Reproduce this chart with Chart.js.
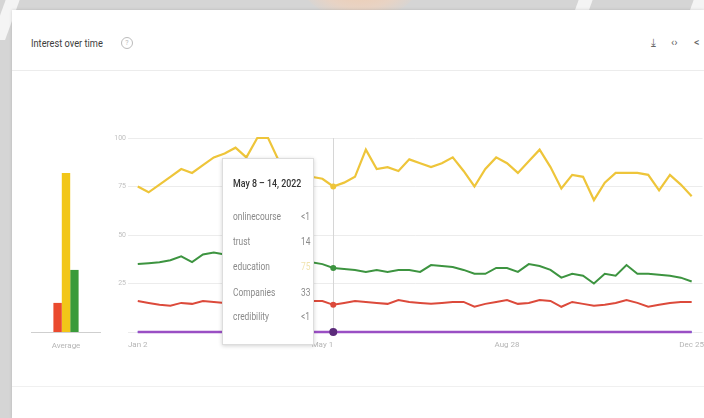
<!DOCTYPE html>
<html>
<head>
<meta charset="utf-8">
<script src="https://cdn.jsdelivr.net/npm/chart.js@4.4.1/dist/chart.umd.min.js"></script>
<style>
  html, body { margin: 0; padding: 0; }
  body { width: 704px; height: 418px; position: relative; overflow: hidden; background: #d5d5d5;
         font-family: Roboto, 'Liberation Sans', sans-serif; }
  .glow { position: absolute; left: 300px; top: -60px; width: 120px; height: 80px; border-radius: 50%;
          background: radial-gradient(ellipse at center, #f2c9a8 0%, #e8d3c4 50%, rgba(213,213,213,0) 75%); }
  .stripe { position: absolute; top: -20px; width: 14px; height: 60px; background: #f4f4f4; transform: skewX(-20deg); }
  #card { position: absolute; left: 12px; top: 10px; right: 0; bottom: 0; background: #fff;
          box-shadow: 0 0 3px rgba(0,0,0,0.15); }
  .narrow { transform: scaleX(0.84); transform-origin: 0 50%; white-space: nowrap; }
  #title { position: absolute; left: 31px; top: 37px; font-size: 11px; color: #3c3c3c; }
  #help { position: absolute; left: 121px; top: 37px; width: 10px; height: 10px; border: 1px solid #bbb; border-radius: 50%;
          font-size: 7px; color: #bbb; text-align: center; line-height: 10px; }
  #sep { position: absolute; left: 12px; right: 0; top: 70px; height: 1px; background: #ececec; }
  #sep2 { position: absolute; left: 12px; right: 0; top: 386px; height: 1px; background: #f0f0f0; }
  .icon { position: absolute; top: 36px; font-size: 11px; color: #666; }
  #avgWrap { position: absolute; left: 31px; top: 128px; width: 70px; height: 224px; }
  #lineWrap { position: absolute; left: 100px; top: 128px; width: 604px; height: 224px; }
  #tip { position: absolute; left: 222px; top: 158px; width: 92px; height: 187px; background: #fff;
         border: 1px solid #ddd; box-shadow: 0 1px 4px rgba(0,0,0,0.18); box-sizing: border-box; }
  #tipTitle { position: absolute; left: 10px; top: 18px; font-size: 10.5px; color: #333; font-weight: 500; }
  .row { position: absolute; left: 10px; font-size: 10px; color: #8a8a8a; }
  .val { position: absolute; left: 78px; font-size: 10px; color: #8a8a8a; }
</style>
</head>
<body>
<div class="glow"></div>
<div class="stripe" style="left:2px"></div>
<div class="stripe" style="left:575px"></div>
<div class="stripe" style="left:690px"></div>
<div id="card"></div>
<div id="title" class="narrow">Interest over time</div>
<div id="help">?</div>
<div class="icon" style="left:651px">&#x2913;</div>
<div class="icon" style="left:671px">&#x2039;&#x203A;</div>
<div class="icon" style="left:694px">&lt;</div>
<div id="sep"></div>
<div id="sep2"></div>
<div id="avgWrap"><canvas id="avg"></canvas></div>
<div id="lineWrap"><canvas id="line"></canvas></div>
<div id="tip"><div id="tipTitle" class="narrow"></div></div>
<script>
// ---- data ----
const terms = ['onlinecourse', 'trust', 'education', 'Companies', 'credibility'];
const colors = ['#4285f4', '#dc4a3b', '#eec53a', '#3d9440', '#9a4fc4'];
const barColors = ['#4285f4', '#ea4a2e', '#f2c618', '#3a9b3a', '#9a4fc4'];
const averages = [0, 15, 82, 32, 0];
const onlinecourse = [0,0,0,0,0,0,0,0,0,0,0,0,0,0,0,0,0,0,0,0,0,0,0,0,0,0,0,0,0,0,0,0,0,0,0,0,0,0,0,0,0,0,0,0,0,0,0,0,0,0,0,0];
const trust = [16,15,14,13.5,15,14.5,16,15.5,15,15,14.5,15,15,14,15,15,16,16,14,15,16,15.5,15,14.5,16.5,15.5,15,14.5,15,15.5,15.5,13,14.5,15.5,16.5,14.5,15,16.5,16,13,15.5,14.5,13.5,14,15,16.5,15,13,14,15,15.5,15.5];
const education = [75,72,76,80,84,82,86,90,92,95,90,100,100,88,85,83,80,79,75,77,80,94,84,85,83,89,87,85,87,90,83,75,84,90,87,82,88,94,85,74,81,80,68,77,82,82,82,81,73,81,76,70];
const companies = [35,35.5,36,37,39,36,40,41,40,38,37,37,36,36,35,36,36,35,33,32.5,32,31,32,31,32,32,31,34.5,34,33.5,32,30,30,33,33,31,35,34,32,28,30,29,25,30,29,34.5,30,30,29.5,29,28,26];
const credibility = [0,0,0,0,0,0,0,0,0,0,0,0,0,0,0,0,0,0,0,0,0,0,0,0,0,0,0,0,0,0,0,0,0,0,0,0,0,0,0,0,0,0,0,0,0,0,0,0,0,0,0,0];
const series = [onlinecourse, trust, education, companies, credibility];
const yTicks = [25, 50, 75, 100];
const tickLabels = ['Jan 2', 'May 1', 'Aug 28', 'Dec 25'];
const tooltipTitle = 'May 8 \u2013 14, 2022';
const tooltipValues = ['<1', '14', '75', '33', '<1'];
const hoverWeek = 'May 8';

// weekly category labels (week start dates, 2022)
const months = ['Jan','Feb','Mar','Apr','May','Jun','Jul','Aug','Sep','Oct','Nov','Dec'];
const weeks = [];
for (let i = 0; i < onlinecourse.length; i++) {
  const d = new Date(Date.UTC(2022, 0, 2 + 7 * i));
  weeks.push(months[d.getUTCMonth()] + ' ' + d.getUTCDate());
}
const hoverIndex = weeks.indexOf(hoverWeek);

const FONT = "Roboto, 'Liberation Sans', sans-serif";

// ---- tooltip (html) ----
const tip = document.getElementById('tip');
document.getElementById('tipTitle').textContent = tooltipTitle;
const rowTops = [52, 77, 102, 128, 152];
terms.forEach((t, i) => {
  const r = document.createElement('div');
  r.className = 'row narrow';
  r.style.top = rowTops[i] + 'px';
  r.textContent = t;
  tip.appendChild(r);
  const v = document.createElement('div');
  v.className = 'val narrow';
  v.style.top = rowTops[i] + 'px';
  v.textContent = tooltipValues[i];
  if (i === 2) v.style.color = '#f1e4b0';
  tip.appendChild(v);
});

// ---- averages bar chart ----
new Chart(document.getElementById('avg'), {
  type: 'bar',
  data: {
    labels: ['Average'],
    datasets: terms.map((t, i) => ({
      label: t, data: [averages[i]], backgroundColor: barColors[i],
      categoryPercentage: 0.6, barPercentage: 1.0, borderWidth: 0
    }))
  },
  options: {
    responsive: true, maintainAspectRatio: false, animation: false,
    layout: { padding: { top: 10, left: 0, right: 0, bottom: 0 } },
    plugins: { legend: { display: false }, tooltip: { enabled: false } },
    scales: {
      x: {
        grid: { display: false },
        border: { display: true, color: '#cfcfcf' },
        ticks: { color: '#b5b5b5', font: { size: 8, family: FONT }, padding: 1 },
        afterFit: s => { s.height = 20; }
      },
      y: { display: false, min: 0, max: 100 }
    }
  }
});

// ---- line chart ----
const hoverPlugin = {
  id: 'hoverLine',
  beforeDatasetsDraw(chart) {
    const { ctx, chartArea, scales } = chart;
    const x = scales.x.getPixelForValue(hoverIndex);
    ctx.save();
    ctx.strokeStyle = '#d6d6d6';
    ctx.lineWidth = 1;
    ctx.beginPath();
    ctx.moveTo(Math.round(x) + 0.5, chartArea.top);
    ctx.lineTo(Math.round(x) + 0.5, chartArea.bottom);
    ctx.stroke();
    ctx.restore();
  }
};

new Chart(document.getElementById('line'), {
  type: 'line',
  data: {
    datasets: terms.map((t, i) => ({
      label: t,
      data: series[i].map((v, k) => ({ x: k, y: v })),
      borderColor: colors[i],
      backgroundColor: colors[i],
      borderWidth: i === 4 ? 2.5 : (i === 2 ? 2.2 : 2),
      tension: 0,
      clip: 4,
      pointRadius: c => c.dataIndex === hoverIndex ? (i === 4 ? 4 : 3) : 0,
      pointBorderWidth: 0,
      pointBackgroundColor: i === 4 ? '#5b2a7a' : colors[i],
      order: i === 4 ? 0 : 5 - i
    }))
  },
  options: {
    responsive: true, maintainAspectRatio: false, animation: false,
    layout: { padding: { top: 10, left: 0, right: 0, bottom: 0 } },
    plugins: { legend: { display: false }, tooltip: { enabled: false } },
    scales: {
      x: {
        type: 'linear', min: -0.9, max: 52,
        grid: { display: false },
        border: { display: false },
        afterBuildTicks: s => {
          s.ticks = tickLabels.map(l => ({ value: weeks.indexOf(l) }));
        },
        ticks: {
          autoSkip: false, maxRotation: 0,
          color: '#b5b5b5', font: { size: 8, family: FONT }, padding: 0,
          callback: v => weeks[v]
        },
        afterFit: s => { s.height = 20; }
      },
      y: {
        min: 0, max: 100,
        afterBuildTicks: s => { s.ticks = [0].concat(yTicks).map(v => ({ value: v })); },
        grid: { color: '#ececec', drawTicks: false },
        border: { display: false },
        ticks: {
          color: '#c0c0c0', font: { size: 7, family: FONT }, padding: 2,
          callback: v => yTicks.includes(v) ? String(v) : ''
        },
        afterFit: s => { s.width = 28; }
      }
    }
  },
  plugins: [hoverPlugin]
});
</script>
</body>
</html>
